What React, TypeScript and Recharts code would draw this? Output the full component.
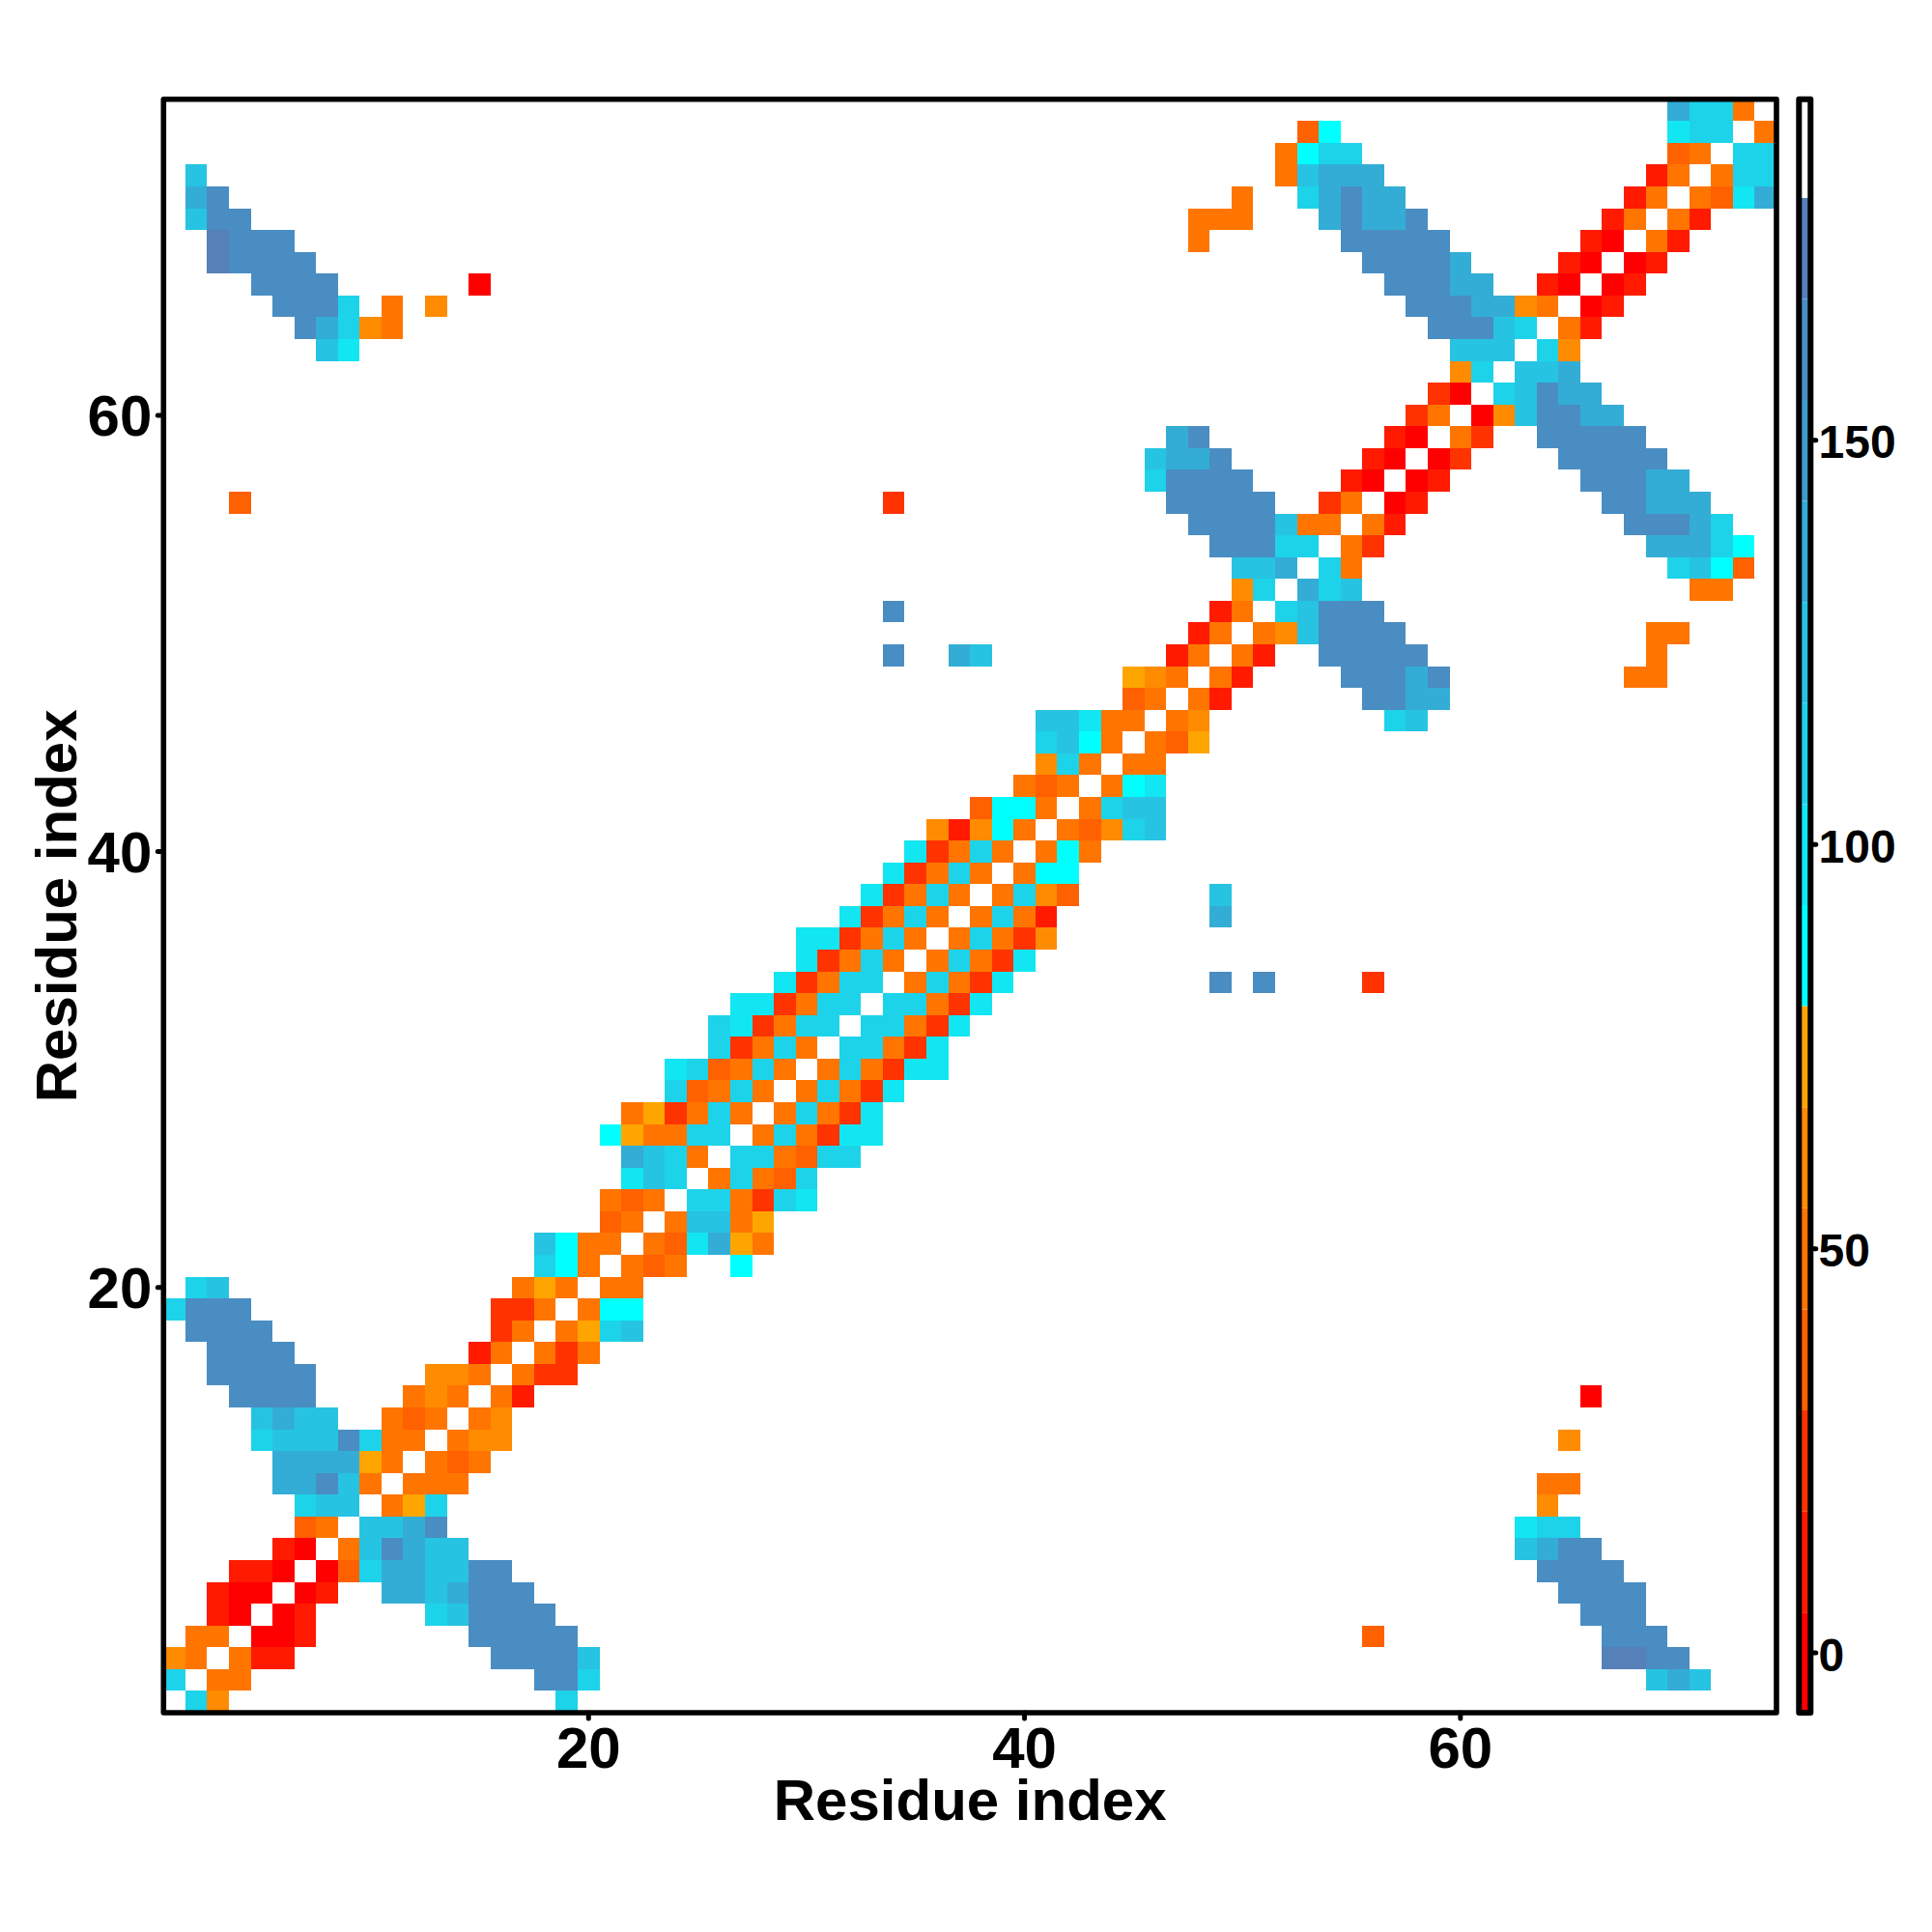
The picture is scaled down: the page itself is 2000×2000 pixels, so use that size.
import { Bar, BarChart, Label, ReferenceArea, Scatter, ScatterChart, XAxis, YAxis } from 'recharts';

// Angle map, symmetric about the diagonal. Only x > y is listed, as runs of
// consecutive residues: [row, first column, angles]
const runsNTerm: [number, number, number[]][] = [
  [1, 2, [111, 61]], [1, 19, [111]],
  [2, 3, [49, 49]], [2, 18, [161, 161, 111]], [2, 69, [124, 136, 124]],
  [3, 4, [49, 11, 11]], [3, 16, [161, 161, 161, 161, 124]], [3, 67, [174, 174, 161, 161]],
  [4, 5, [0, 0, 11]], [4, 15, [161, 161, 161, 161, 161]], [4, 56, [36]], [4, 67, [161, 161, 161]],
  [5, 6, [0, 11]], [5, 13, [111, 124, 161, 161, 161, 161]], [5, 66, [161, 161, 161]],
  [6, 7, [0, 11]], [6, 11, [136, 136, 124, 136, 161, 161, 161]], [6, 65, [161, 161, 161, 161]],
  [7, 8, [0, 36, 111, 136, 136, 124, 124, 161, 161]], [7, 64, [161, 161, 161, 161]],
  [8, 9, [49, 124, 161, 136, 124, 124]], [8, 63, [124, 136, 161, 161]],
  [9, 10, [124, 124, 136, 161]], [9, 63, [99, 111, 111]],
  [10, 11, [49, 74, 111]], [10, 64, [61]],
  [11, 12, [49, 49, 49]], [11, 64, [49, 49]],
  [12, 13, [49, 36, 49]],
  [13, 14, [49, 61, 61]], [13, 65, [61]],
  [14, 15, [49, 61]],
  [15, 16, [49, 11]], [15, 66, [0]],
  [16, 17, [49, 24, 24]],
  [17, 18, [49, 24, 49]],
  [18, 19, [49, 74, 111, 124]],
  [19, 20, [49, 86, 86]],
  [20, 21, [49, 49]],
];

const runsMiddle: [number, number, number[]][] = [
  [21, 22, [49, 36, 49]], [21, 27, [86]],
  [22, 23, [49, 36, 99, 136, 74, 49]],
  [23, 24, [49, 124, 124, 49, 74]],
  [24, 25, [111, 111, 49, 24, 111, 99]],
  [25, 26, [49, 111, 49, 36, 111]],
  [26, 27, [111, 111, 49, 36, 111, 111]],
  [27, 28, [49, 111, 49, 24, 99, 99]],
  [28, 29, [49, 111, 49, 24, 99]],
  [29, 30, [49, 111, 49, 24, 99]],
  [30, 31, [49, 111, 49, 24, 99, 99]],
  [31, 32, [111, 111, 49, 24, 99]],
  [32, 33, [111, 111, 49, 24, 99]],
  [33, 34, [111, 111, 49, 24, 99]],
  [34, 35, [49, 111, 49, 24, 99]], [34, 49, [161]], [34, 51, [161]], [34, 56, [24]],
  [35, 36, [49, 111, 49, 24, 99]],
  [36, 37, [49, 111, 49, 24, 61]],
  [37, 38, [49, 111, 49, 11]], [37, 49, [136]],
  [38, 39, [49, 111, 61, 36]], [38, 49, [124]],
  [39, 40, [49, 86, 86]],
  [40, 41, [49, 86, 49]],
  [41, 42, [49, 36, 61, 111, 124]],
  [42, 43, [49, 111, 124, 124]],
  [43, 44, [49, 86, 99]],
  [44, 45, [49, 49]],
  [45, 46, [49, 36, 74]],
];

const runsCTerm: [number, number, number[]][] = [
  [46, 47, [49, 61]], [46, 57, [111, 124]],
  [47, 48, [49, 11]], [47, 56, [161, 161, 136, 136]],
  [48, 49, [49, 11]], [48, 55, [161, 161, 161, 136, 161]], [48, 68, [49, 49]],
  [49, 50, [49, 11]], [49, 54, [161, 161, 161, 161, 161]], [49, 69, [49]],
  [50, 51, [49, 61, 124, 161, 161, 161, 161]], [50, 69, [49, 49]],
  [51, 52, [111, 124, 161, 161, 161]],
  [52, 53, [136, 111, 124]], [52, 71, [49, 49]],
  [53, 54, [111, 49]], [53, 70, [111, 124, 86, 36]],
  [54, 55, [49, 24]], [54, 69, [136, 136, 136, 111, 86]],
  [55, 56, [49, 11]], [55, 68, [161, 161, 161, 136, 111]],
  [56, 57, [0, 11]], [56, 67, [161, 161, 136, 136, 136]],
  [57, 58, [0, 11]], [57, 66, [161, 161, 161, 136, 136]],
  [58, 59, [0, 24]], [58, 65, [161, 161, 161, 161, 161]],
  [59, 60, [49, 24]], [59, 64, [161, 161, 161, 161, 161]],
  [60, 61, [0, 61, 124, 161, 161, 136, 136]],
  [61, 62, [111, 124, 161, 136, 136]],
  [62, 63, [124, 124, 136]],
  [63, 64, [111, 61]],
  [64, 65, [49, 11]],
  [65, 66, [0, 11]],
  [66, 67, [0, 11]],
  [67, 68, [0, 11]],
  [68, 69, [49, 11]],
  [69, 70, [49, 11]],
  [70, 71, [49, 36, 99, 136]],
  [71, 72, [49, 111, 111]],
  [72, 73, [111, 111]],
  [73, 74, [49]],
];

const residueTicks = [20, 40, 60];
const colorbarTicks = [0, 50, 100, 150];
const bandEdges = [-7.4, 5, 17.5, 30, 42.5, 55, 67.5, 80, 92.5, 105, 117.5, 130, 142.5, 155, 167.5, 180, 192.2];
const bandColours = [
  '#ff0000', '#ff1a00', '#ff3300', '#ff6000', '#ff7500', '#ff8b00', '#ffa500', '#00ffff',
  '#12e6f2', '#1dd3ea', '#27c3e2', '#33add6', '#3d9ccb', '#4a8dc2', '#5580b8', '#ffffff',
];

const FONT = '"Liberation Sans", Arial, sans-serif';
const domain: [number, number] = [0.5, 74.5];
const plot = { left: 169.3, right: 1839, top: 102.7, bottom: 1773 };
const cellW = (plot.right - plot.left) / 74;
const cellH = (plot.bottom - plot.top) / 74;

const colourFor = (angle: number) => {
  const band = bandEdges.findIndex((edge, i) => angle >= edge && angle < bandEdges[i + 1]);
  return bandColours[band];
};

const cells: { x: number; y: number; angle: number }[] = [];
[...runsNTerm, ...runsMiddle, ...runsCTerm].forEach(([row, first, angles]) => {
  angles.forEach((angle, k) => {
    cells.push({ x: first + k, y: row, angle });
    cells.push({ x: row, y: first + k, angle });
  });
});

// one stacked segment per colour band; the red band straddles zero
const colorbarRow: Record<string, number | string> = { name: 'angle', below: bandEdges[0] };
bandColours.forEach((_, i) => {
  colorbarRow[`band${i}`] = i === 0 ? bandEdges[1] : bandEdges[i + 1] - bandEdges[i];
});

// edges snapped to whole pixels so neighbouring cells show no seams
const CellShape = (props: any) => {
  const x0 = Math.round(props.cx - cellW / 2);
  const x1 = Math.round(props.cx + cellW / 2);
  const y0 = Math.round(props.cy - cellH / 2);
  const y1 = Math.round(props.cy + cellH / 2);
  return (
    <rect
      x={x0}
      y={y0}
      width={x1 - x0}
      height={y1 - y0}
      fill={colourFor(props.payload.angle)}
      shapeRendering="crispEdges"
    />
  );
};

const tickLine = { stroke: '#000', strokeWidth: 5, strokeLinecap: 'round' as const };
const tickText = { fill: '#000', fontSize: 60, fontWeight: 700, fontFamily: FONT };
const blank = () => '';

const App = () => {
  return (
    <div style={{ position: 'absolute', left: 0, top: 0, width: 2000, height: 2000, background: '#fff' }}>
      <div style={{ position: 'absolute', left: 0, top: 0 }}>
        <ScatterChart
          width={2000}
          height={2000}
          margin={{ left: plot.left - 100, right: 2000 - plot.right - 20, top: plot.top - 20, bottom: 2000 - plot.bottom - 70 }}
        >
          <XAxis
            xAxisId="bottom"
            dataKey="x"
            type="number"
            domain={domain}
            ticks={residueTicks}
            height={70}
            axisLine={false}
            tickLine={tickLine}
            tickSize={6}
            tickMargin={8}
            tick={tickText}
          >
            <Label value="Residue index" position="bottom" offset={-2} style={tickText} />
          </XAxis>
          <XAxis
            xAxisId="top"
            orientation="top"
            type="number"
            domain={domain}
            ticks={residueTicks}
            height={20}
            axisLine={false}
            tickLine={tickLine}
            tickSize={6}
            tickFormatter={blank}
          />
          <YAxis
            yAxisId="left"
            dataKey="y"
            type="number"
            domain={domain}
            ticks={residueTicks}
            width={100}
            axisLine={false}
            tickLine={tickLine}
            tickSize={6}
            tickMargin={6}
            tick={tickText}
          >
            <Label value="Residue index" angle={-90} position="left" offset={12} textAnchor="middle" style={tickText} />
          </YAxis>
          <YAxis
            yAxisId="right"
            orientation="right"
            type="number"
            domain={domain}
            ticks={residueTicks}
            width={20}
            axisLine={false}
            tickLine={tickLine}
            tickSize={6}
            tickFormatter={blank}
          />
          <Scatter
            data={cells}
            xAxisId="bottom"
            yAxisId="left"
            shape={CellShape}
            isAnimationActive={false}
          />
          <ReferenceArea
            xAxisId="bottom"
            yAxisId="left"
            x1={domain[0]}
            x2={domain[1]}
            y1={domain[0]}
            y2={domain[1]}
            fill="none"
            stroke="#000"
            strokeWidth={5.6}
            strokeLinejoin="round"
            zIndex={2000}
          />
        </ScatterChart>
      </div>
      <div style={{ position: 'absolute', left: 0, top: 0 }}>
        <BarChart
          width={2000}
          height={2000}
          data={[colorbarRow]}
          stackOffset="sign"
          barCategoryGap={0}
          margin={{ left: 1862.3, right: 5.7, top: plot.top, bottom: 2000 - plot.bottom }}
        >
          <XAxis dataKey="name" hide />
          <YAxis
            orientation="right"
            type="number"
            domain={[bandEdges[0], bandEdges[bandEdges.length - 1]]}
            ticks={colorbarTicks}
            width={120}
            axisLine={false}
            tickLine={tickLine}
            tickSize={5.5}
            tickMargin={2.7}
            tick={{ ...tickText, fontSize: 48, dy: 1.5 }}
            allowDataOverflow
          />
          <Bar dataKey="below" stackId="bar" fill={bandColours[0]} isAnimationActive={false} />
          {bandColours.map((colour, i) => (
            <Bar key={colour} dataKey={`band${i}`} stackId="bar" fill={colour} isAnimationActive={false} />
          ))}
          <ReferenceArea
            y1={bandEdges[0]}
            y2={bandEdges[bandEdges.length - 1]}
            fill="none"
            stroke="#000"
            strokeWidth={6}
            strokeLinejoin="round"
            zIndex={2000}
          />
        </BarChart>
      </div>
    </div>
  );
};

export default App;
